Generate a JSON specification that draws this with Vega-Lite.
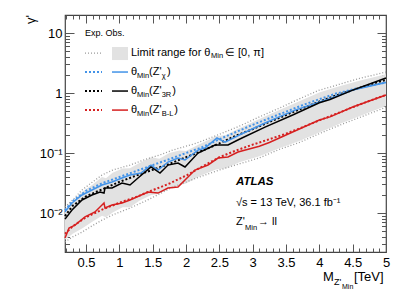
{
  "$schema": "https://vega.github.io/schema/vega-lite/v6.json",
  "width": 321,
  "height": 237,
  "autosize": {"type": "none"},
  "padding": {"left": 65, "top": 15, "right": 21, "bottom": 49},
  "background": "white",
  "config": {
    "font": "Liberation Sans",
    "view": {"stroke": "#444", "strokeWidth": 1.2},
    "axis": {"domain": false, "grid": false, "tickColor": "#555", "tickWidth": 1, "labelFont": "Liberation Sans", "labelFontSize": 13, "labelColor": "#000", "labelFlush": false, "labelOverlap": false}
  },
  "datasets": {
    "fill": [
      {"x": 0.185, "lo": 0.0036, "hi": 0.0118},
      {"x": 0.3, "lo": 0.0045, "hi": 0.0155},
      {"x": 0.44, "lo": 0.0055, "hi": 0.0225},
      {"x": 0.6, "lo": 0.0072, "hi": 0.03},
      {"x": 0.74, "lo": 0.009, "hi": 0.04},
      {"x": 0.8, "lo": 0.0085, "hi": 0.038},
      {"x": 0.9, "lo": 0.0102, "hi": 0.047},
      {"x": 1.05, "lo": 0.0125, "hi": 0.055},
      {"x": 1.16, "lo": 0.0125, "hi": 0.056},
      {"x": 1.3, "lo": 0.016, "hi": 0.068},
      {"x": 1.48, "lo": 0.02, "hi": 0.085},
      {"x": 1.6, "lo": 0.021, "hi": 0.08},
      {"x": 1.75, "lo": 0.026, "hi": 0.1},
      {"x": 1.9, "lo": 0.029, "hi": 0.11},
      {"x": 2.0, "lo": 0.031, "hi": 0.108},
      {"x": 2.2, "lo": 0.041, "hi": 0.14},
      {"x": 2.45, "lo": 0.053, "hi": 0.19},
      {"x": 2.6, "lo": 0.056, "hi": 0.2},
      {"x": 2.8, "lo": 0.07, "hi": 0.26},
      {"x": 3.1, "lo": 0.088, "hi": 0.37},
      {"x": 3.4, "lo": 0.12, "hi": 0.52},
      {"x": 3.7, "lo": 0.158, "hi": 0.73},
      {"x": 4.0, "lo": 0.22, "hi": 1.02},
      {"x": 4.3, "lo": 0.305, "hi": 1.3},
      {"x": 4.6, "lo": 0.41, "hi": 1.6},
      {"x": 5.0, "lo": 0.61, "hi": 2.05}
    ],
    "exprange": [
      {"x": 0.185, "up": 0.0126, "lo": 0.0033},
      {"x": 0.3, "up": 0.0165, "lo": 0.004},
      {"x": 0.44, "up": 0.0242, "lo": 0.0048},
      {"x": 0.6, "up": 0.033, "lo": 0.0062},
      {"x": 0.74, "up": 0.043, "lo": 0.0076},
      {"x": 0.9, "up": 0.052, "lo": 0.0093},
      {"x": 1.16, "up": 0.063, "lo": 0.0121},
      {"x": 1.4, "up": 0.079, "lo": 0.016},
      {"x": 1.61, "up": 0.093, "lo": 0.021},
      {"x": 1.8, "up": 0.112, "lo": 0.027},
      {"x": 2.15, "up": 0.145, "lo": 0.038},
      {"x": 2.5, "up": 0.205, "lo": 0.052},
      {"x": 2.8, "up": 0.28, "lo": 0.066},
      {"x": 3.1, "up": 0.4, "lo": 0.083},
      {"x": 3.4, "up": 0.56, "lo": 0.115},
      {"x": 3.7, "up": 0.8, "lo": 0.15},
      {"x": 4.0, "up": 1.12, "lo": 0.21},
      {"x": 4.16, "up": 1.25, "lo": 0.25},
      {"x": 4.3, "up": 1.4, "lo": 0.29},
      {"x": 4.6, "up": 1.75, "lo": 0.39},
      {"x": 5.0, "up": 2.24, "lo": 0.58}
    ],
    "curves": [
      {"s": "chi", "k": "exp", "x": 0.185, "y": 0.0112},
      {"s": "chi", "k": "exp", "x": 0.3, "y": 0.0158},
      {"s": "chi", "k": "exp", "x": 0.5, "y": 0.0234},
      {"s": "chi", "k": "exp", "x": 0.75, "y": 0.0316},
      {"s": "chi", "k": "exp", "x": 1.0, "y": 0.0398},
      {"s": "chi", "k": "exp", "x": 1.25, "y": 0.05},
      {"s": "chi", "k": "exp", "x": 1.5, "y": 0.063},
      {"s": "chi", "k": "exp", "x": 1.75, "y": 0.079},
      {"s": "chi", "k": "exp", "x": 2.0, "y": 0.1},
      {"s": "chi", "k": "exp", "x": 2.25, "y": 0.126},
      {"s": "chi", "k": "exp", "x": 2.5, "y": 0.17},
      {"s": "chi", "k": "exp", "x": 2.75, "y": 0.224},
      {"s": "chi", "k": "exp", "x": 3.0, "y": 0.295},
      {"s": "chi", "k": "exp", "x": 3.25, "y": 0.38},
      {"s": "chi", "k": "exp", "x": 3.5, "y": 0.49},
      {"s": "chi", "k": "exp", "x": 3.75, "y": 0.63},
      {"s": "chi", "k": "exp", "x": 4.0, "y": 0.79},
      {"s": "chi", "k": "exp", "x": 4.25, "y": 0.98},
      {"s": "chi", "k": "exp", "x": 4.5, "y": 1.15},
      {"s": "chi", "k": "exp", "x": 4.75, "y": 1.33},
      {"s": "chi", "k": "exp", "x": 5.0, "y": 1.5},
      {"s": "3R", "k": "exp", "x": 0.185, "y": 0.0089},
      {"s": "3R", "k": "exp", "x": 0.3, "y": 0.0132},
      {"s": "3R", "k": "exp", "x": 0.5, "y": 0.019},
      {"s": "3R", "k": "exp", "x": 0.75, "y": 0.025},
      {"s": "3R", "k": "exp", "x": 1.0, "y": 0.033},
      {"s": "3R", "k": "exp", "x": 1.25, "y": 0.042},
      {"s": "3R", "k": "exp", "x": 1.5, "y": 0.0525},
      {"s": "3R", "k": "exp", "x": 1.75, "y": 0.066},
      {"s": "3R", "k": "exp", "x": 2.0, "y": 0.085},
      {"s": "3R", "k": "exp", "x": 2.25, "y": 0.11},
      {"s": "3R", "k": "exp", "x": 2.5, "y": 0.145},
      {"s": "3R", "k": "exp", "x": 2.75, "y": 0.195},
      {"s": "3R", "k": "exp", "x": 3.0, "y": 0.25},
      {"s": "3R", "k": "exp", "x": 3.25, "y": 0.33},
      {"s": "3R", "k": "exp", "x": 3.5, "y": 0.43},
      {"s": "3R", "k": "exp", "x": 3.75, "y": 0.56},
      {"s": "3R", "k": "exp", "x": 4.0, "y": 0.72},
      {"s": "3R", "k": "exp", "x": 4.25, "y": 0.91},
      {"s": "3R", "k": "exp", "x": 4.5, "y": 1.12},
      {"s": "3R", "k": "exp", "x": 4.75, "y": 1.38},
      {"s": "3R", "k": "exp", "x": 5.0, "y": 1.66},
      {"s": "BL", "k": "exp", "x": 0.185, "y": 0.0045},
      {"s": "BL", "k": "exp", "x": 0.3, "y": 0.006},
      {"s": "BL", "k": "exp", "x": 0.5, "y": 0.0085},
      {"s": "BL", "k": "exp", "x": 0.75, "y": 0.0115},
      {"s": "BL", "k": "exp", "x": 1.0, "y": 0.0148},
      {"s": "BL", "k": "exp", "x": 1.25, "y": 0.0185},
      {"s": "BL", "k": "exp", "x": 1.5, "y": 0.024},
      {"s": "BL", "k": "exp", "x": 1.75, "y": 0.031},
      {"s": "BL", "k": "exp", "x": 2.0, "y": 0.042},
      {"s": "BL", "k": "exp", "x": 2.25, "y": 0.06},
      {"s": "BL", "k": "exp", "x": 2.5, "y": 0.085},
      {"s": "BL", "k": "exp", "x": 2.75, "y": 0.11},
      {"s": "BL", "k": "exp", "x": 3.0, "y": 0.138},
      {"s": "BL", "k": "exp", "x": 3.25, "y": 0.17},
      {"s": "BL", "k": "exp", "x": 3.5, "y": 0.21},
      {"s": "BL", "k": "exp", "x": 3.75, "y": 0.27},
      {"s": "BL", "k": "exp", "x": 4.0, "y": 0.35},
      {"s": "BL", "k": "exp", "x": 4.25, "y": 0.45},
      {"s": "BL", "k": "exp", "x": 4.5, "y": 0.58},
      {"s": "BL", "k": "exp", "x": 4.75, "y": 0.74},
      {"s": "BL", "k": "exp", "x": 5.0, "y": 0.93},
      {"s": "chi", "k": "obs", "x": 0.185, "y": 0.0105},
      {"s": "chi", "k": "obs", "x": 0.29, "y": 0.0147},
      {"s": "chi", "k": "obs", "x": 0.44, "y": 0.02},
      {"s": "chi", "k": "obs", "x": 0.59, "y": 0.0242},
      {"s": "chi", "k": "obs", "x": 0.74, "y": 0.0293},
      {"s": "chi", "k": "obs", "x": 0.89, "y": 0.0329},
      {"s": "chi", "k": "obs", "x": 1.04, "y": 0.0383},
      {"s": "chi", "k": "obs", "x": 1.16, "y": 0.043},
      {"s": "chi", "k": "obs", "x": 1.325, "y": 0.0464},
      {"s": "chi", "k": "obs", "x": 1.475, "y": 0.063},
      {"s": "chi", "k": "obs", "x": 1.58, "y": 0.052},
      {"s": "chi", "k": "obs", "x": 1.73, "y": 0.0708},
      {"s": "chi", "k": "obs", "x": 1.88, "y": 0.0826},
      {"s": "chi", "k": "obs", "x": 1.985, "y": 0.0764},
      {"s": "chi", "k": "obs", "x": 2.18, "y": 0.112},
      {"s": "chi", "k": "obs", "x": 2.285, "y": 0.121},
      {"s": "chi", "k": "obs", "x": 2.465, "y": 0.178},
      {"s": "chi", "k": "obs", "x": 2.585, "y": 0.152},
      {"s": "chi", "k": "obs", "x": 2.8, "y": 0.2},
      {"s": "chi", "k": "obs", "x": 3.185, "y": 0.316},
      {"s": "chi", "k": "obs", "x": 3.635, "y": 0.52},
      {"s": "chi", "k": "obs", "x": 4.16, "y": 0.81},
      {"s": "chi", "k": "obs", "x": 4.5, "y": 1.12},
      {"s": "chi", "k": "obs", "x": 5.0, "y": 1.5},
      {"s": "3R", "k": "obs", "x": 0.185, "y": 0.0079},
      {"s": "3R", "k": "obs", "x": 0.29, "y": 0.0112},
      {"s": "3R", "k": "obs", "x": 0.44, "y": 0.0165},
      {"s": "3R", "k": "obs", "x": 0.59, "y": 0.02},
      {"s": "3R", "k": "obs", "x": 0.71, "y": 0.0224},
      {"s": "3R", "k": "obs", "x": 0.77, "y": 0.0215},
      {"s": "3R", "k": "obs", "x": 0.785, "y": 0.0261},
      {"s": "3R", "k": "obs", "x": 0.89, "y": 0.0261},
      {"s": "3R", "k": "obs", "x": 1.04, "y": 0.0316},
      {"s": "3R", "k": "obs", "x": 1.16, "y": 0.0293},
      {"s": "3R", "k": "obs", "x": 1.28, "y": 0.0383},
      {"s": "3R", "k": "obs", "x": 1.475, "y": 0.0585},
      {"s": "3R", "k": "obs", "x": 1.61, "y": 0.0464},
      {"s": "3R", "k": "obs", "x": 1.73, "y": 0.063},
      {"s": "3R", "k": "obs", "x": 1.88, "y": 0.068},
      {"s": "3R", "k": "obs", "x": 1.985, "y": 0.0585},
      {"s": "3R", "k": "obs", "x": 2.18, "y": 0.1},
      {"s": "3R", "k": "obs", "x": 2.435, "y": 0.136},
      {"s": "3R", "k": "obs", "x": 2.63, "y": 0.136},
      {"s": "3R", "k": "obs", "x": 2.8, "y": 0.17},
      {"s": "3R", "k": "obs", "x": 3.185, "y": 0.271},
      {"s": "3R", "k": "obs", "x": 3.6, "y": 0.43},
      {"s": "3R", "k": "obs", "x": 4.0, "y": 0.69},
      {"s": "3R", "k": "obs", "x": 4.16, "y": 0.78},
      {"s": "3R", "k": "obs", "x": 4.5, "y": 1.12},
      {"s": "3R", "k": "obs", "x": 5.0, "y": 1.78},
      {"s": "BL", "k": "obs", "x": 0.185, "y": 0.00383},
      {"s": "BL", "k": "obs", "x": 0.245, "y": 0.0056},
      {"s": "BL", "k": "obs", "x": 0.335, "y": 0.0063},
      {"s": "BL", "k": "obs", "x": 0.485, "y": 0.0086},
      {"s": "BL", "k": "obs", "x": 0.635, "y": 0.0104},
      {"s": "BL", "k": "obs", "x": 0.77, "y": 0.0147},
      {"s": "BL", "k": "obs", "x": 0.785, "y": 0.0121},
      {"s": "BL", "k": "obs", "x": 0.89, "y": 0.0136},
      {"s": "BL", "k": "obs", "x": 1.04, "y": 0.0147},
      {"s": "BL", "k": "obs", "x": 1.16, "y": 0.0165},
      {"s": "BL", "k": "obs", "x": 1.43, "y": 0.0224},
      {"s": "BL", "k": "obs", "x": 1.58, "y": 0.0215},
      {"s": "BL", "k": "obs", "x": 1.73, "y": 0.0261},
      {"s": "BL", "k": "obs", "x": 1.88, "y": 0.0271},
      {"s": "BL", "k": "obs", "x": 1.985, "y": 0.0355},
      {"s": "BL", "k": "obs", "x": 2.135, "y": 0.052},
      {"s": "BL", "k": "obs", "x": 2.33, "y": 0.063},
      {"s": "BL", "k": "obs", "x": 2.48, "y": 0.0826},
      {"s": "BL", "k": "obs", "x": 2.63, "y": 0.0858},
      {"s": "BL", "k": "obs", "x": 2.78, "y": 0.104},
      {"s": "BL", "k": "obs", "x": 3.1, "y": 0.13},
      {"s": "BL", "k": "obs", "x": 3.25, "y": 0.15},
      {"s": "BL", "k": "obs", "x": 3.4, "y": 0.178},
      {"s": "BL", "k": "obs", "x": 4.0, "y": 0.355},
      {"s": "BL", "k": "obs", "x": 4.16, "y": 0.4},
      {"s": "BL", "k": "obs", "x": 4.5, "y": 0.585},
      {"s": "BL", "k": "obs", "x": 5.0, "y": 0.926}
    ],
    "legrules": [
      {"s": "range", "k": "range", "x": 0.485, "x2": 0.74, "y": 4.64},
      {"s": "chi", "k": "exp", "x": 0.485, "x2": 0.74, "y": 2.24},
      {"s": "chi", "k": "obs", "x": 0.89, "x2": 1.13, "y": 2.24},
      {"s": "3R", "k": "exp", "x": 0.485, "x2": 0.74, "y": 1.08},
      {"s": "3R", "k": "obs", "x": 0.89, "x2": 1.13, "y": 1.08},
      {"s": "BL", "k": "exp", "x": 0.485, "x2": 0.74, "y": 0.52},
      {"s": "BL", "k": "obs", "x": 0.89, "x2": 1.13, "y": 0.52}
    ],
    "legbox": [
      {"x": 0.89, "x2": 1.13, "y": 5.85, "y2": 3.55}
    ],
    "labels": [
      {"role": "hdr", "x": 0.485, "y": 10, "t": "Exp. Obs."},
      {"role": "leg", "x": 1.175, "y": 4.64, "t": "Limit range for θ"},
      {"role": "leg", "x": 2.585, "y": 4.64, "t": "∈ [0, π]"},
      {"role": "leg", "x": 1.175, "y": 2.24, "t": "θ"},
      {"role": "leg", "x": 1.445, "y": 2.24, "t": "(Z'"},
      {"role": "leg", "x": 1.715, "y": 2.24, "t": ")"},
      {"role": "leg", "x": 1.175, "y": 1.08, "t": "θ"},
      {"role": "leg", "x": 1.445, "y": 1.08, "t": "(Z'"},
      {"role": "leg", "x": 1.795, "y": 1.08, "t": ")"},
      {"role": "leg", "x": 1.175, "y": 0.52, "t": "θ"},
      {"role": "leg", "x": 1.445, "y": 0.52, "t": "(Z'"},
      {"role": "leg", "x": 1.825, "y": 0.52, "t": ")"},
      {"role": "legsub", "x": 2.375, "y": 4.14, "t": "Min"},
      {"role": "legsub", "x": 1.265, "y": 1.96, "t": "Min"},
      {"role": "legsub", "x": 1.635, "y": 1.96, "t": "χ"},
      {"role": "legsub", "x": 1.265, "y": 0.944, "t": "Min"},
      {"role": "legsub", "x": 1.635, "y": 0.944, "t": "3R"},
      {"role": "legsub", "x": 1.265, "y": 0.455, "t": "Min"},
      {"role": "legsub", "x": 1.635, "y": 0.455, "t": "B-L"},
      {"role": "atlas", "x": 2.75, "y": 0.0329, "t": "ATLAS"},
      {"role": "note", "x": 2.75, "y": 0.0147, "t": "√s = 13 TeV, 36.1 fb⁻¹"},
      {"role": "note", "x": 2.75, "y": 0.0071, "t": "Z'"},
      {"role": "note", "x": 3.08, "y": 0.0071, "t": "→ ll"},
      {"role": "legsub", "x": 2.885, "y": 0.0056, "t": "Min"},
      {"role": "xt", "x": 4.055, "y": 0.000857, "t": "M"},
      {"role": "xt", "x": 4.52, "y": 0.000857, "t": "[TeV]"},
      {"role": "xsub", "x": 4.22, "y": 0.000708, "t": "Z'"},
      {"role": "xsub2", "x": 4.34, "y": 0.000583, "t": "Min"}
    ]
  },
  "resolve": {"axis": {"x": "independent", "y": "independent"}},
  "layer": [
    {
      "data": {"name": "fill"},
      "mark": {"type": "area", "color": "#e2e2e2"},
      "encoding": {
        "x": {"field": "x", "type": "quantitative", "scale": {"type": "linear", "domain": [0.185, 5], "nice": false, "zero": false},
          "axis": {"orient": "bottom", "values": [0.5, 1, 1.5, 2, 2.5, 3, 3.5, 4, 4.5, 5], "ticks": false, "labelPadding": 4, "format": "~g", "title": null}},
        "y": {"field": "hi", "type": "quantitative", "scale": {"type": "log", "domain": [0.00224, 20], "nice": false},
          "axis": {"orient": "left", "values": [0.01, 0.1, 1, 10], "ticks": false, "labelPadding": 3,
            "labelExpr": "datum.value >= 5 ? '10' : datum.value >= 0.5 ? '1' : datum.value >= 0.05 ? '10⁻¹' : '10⁻²'",
            "title": "γ'", "titleFontSize": 13, "titleFontWeight": "normal", "titleFont": "Liberation Sans", "titleAngle": 270, "titleX": -35, "titleY": 4, "titleAlign": "center", "titleBaseline": "middle"}},
        "y2": {"field": "lo"}
      }
    },
    {
      "data": {"name": "exprange"},
      "mark": {"type": "line", "color": "#9a9a9a", "strokeDash": [1, 2], "strokeWidth": 1.3},
      "encoding": {
        "x": {"field": "x", "type": "quantitative", "scale": {"type": "linear", "domain": [0.185, 5], "nice": false, "zero": false},
          "axis": {"orient": "bottom", "values": [0.5, 1, 1.5, 2, 2.5, 3, 3.5, 4, 4.5, 5], "labels": false, "tickSize": -8, "title": null}},
        "y": {"field": "up", "type": "quantitative", "scale": {"type": "log", "domain": [0.00224, 20], "nice": false},
          "axis": {"orient": "left", "values": [0.01, 0.1, 1, 10], "labels": false, "tickSize": -9, "title": null}}
      }
    },
    {
      "data": {"name": "exprange"},
      "mark": {"type": "line", "color": "#9a9a9a", "strokeDash": [1, 2], "strokeWidth": 1.3},
      "encoding": {
        "x": {"field": "x", "type": "quantitative", "scale": {"type": "linear", "domain": [0.185, 5], "nice": false, "zero": false},
          "axis": {"orient": "bottom", "values": [0.2, 0.3, 0.4, 0.6, 0.7, 0.8, 0.9, 1.1, 1.2, 1.3, 1.4, 1.6, 1.7, 1.8, 1.9, 2.1, 2.2, 2.3, 2.4, 2.6, 2.7, 2.8, 2.9, 3.1, 3.2, 3.3, 3.4, 3.6, 3.7, 3.8, 3.9, 4.1, 4.2, 4.3, 4.4, 4.6, 4.7, 4.8, 4.9], "labels": false, "tickSize": -4, "title": null}},
        "y": {"field": "lo", "type": "quantitative", "scale": {"type": "log", "domain": [0.00224, 20], "nice": false},
          "axis": {"orient": "left", "values": [0.003, 0.004, 0.005, 0.006, 0.007, 0.008, 0.009, 0.02, 0.03, 0.04, 0.05, 0.06, 0.07, 0.08, 0.09, 0.2, 0.3, 0.4, 0.5, 0.6, 0.7, 0.8, 0.9, 2, 3, 4, 5, 6, 7, 8, 9], "labels": false, "tickSize": -4.5, "title": null}}
      }
    },
    {
      "data": {"name": "curves"},
      "transform": [{"filter": "datum.k == 'exp'"}],
      "mark": {"type": "line", "strokeDash": [2, 2], "strokeWidth": 2},
      "encoding": {
        "x": {"field": "x", "type": "quantitative", "scale": {"type": "linear", "domain": [0.185, 5], "nice": false, "zero": false},
          "axis": {"orient": "top", "values": [0.5, 1, 1.5, 2, 2.5, 3, 3.5, 4, 4.5, 5], "labels": false, "tickSize": -8, "title": null}},
        "y": {"field": "y", "type": "quantitative", "scale": {"type": "log", "domain": [0.00224, 20], "nice": false},
          "axis": {"orient": "right", "values": [0.01, 0.1, 1, 10], "labels": false, "tickSize": -9, "title": null}},
        "color": {"field": "s", "type": "nominal", "scale": {"domain": ["chi", "3R", "BL"], "range": ["#4393e8", "#000000", "#d62020"]}, "legend": null}
      }
    },
    {
      "data": {"name": "curves"},
      "transform": [{"filter": "datum.k == 'obs'"}],
      "mark": {"type": "line", "strokeWidth": 1.5},
      "encoding": {
        "x": {"field": "x", "type": "quantitative", "scale": {"type": "linear", "domain": [0.185, 5], "nice": false, "zero": false},
          "axis": {"orient": "top", "values": [0.2, 0.3, 0.4, 0.6, 0.7, 0.8, 0.9, 1.1, 1.2, 1.3, 1.4, 1.6, 1.7, 1.8, 1.9, 2.1, 2.2, 2.3, 2.4, 2.6, 2.7, 2.8, 2.9, 3.1, 3.2, 3.3, 3.4, 3.6, 3.7, 3.8, 3.9, 4.1, 4.2, 4.3, 4.4, 4.6, 4.7, 4.8, 4.9], "labels": false, "tickSize": -4, "title": null}},
        "y": {"field": "y", "type": "quantitative", "scale": {"type": "log", "domain": [0.00224, 20], "nice": false},
          "axis": {"orient": "right", "values": [0.003, 0.004, 0.005, 0.006, 0.007, 0.008, 0.009, 0.02, 0.03, 0.04, 0.05, 0.06, 0.07, 0.08, 0.09, 0.2, 0.3, 0.4, 0.5, 0.6, 0.7, 0.8, 0.9, 2, 3, 4, 5, 6, 7, 8, 9], "labels": false, "tickSize": -4.5, "title": null}},
        "color": {"field": "s", "type": "nominal", "scale": {"domain": ["chi", "3R", "BL"], "range": ["#4393e8", "#000000", "#d62020"]}, "legend": null}
      }
    },
    {
      "data": {"name": "legbox"},
      "mark": {"type": "rect", "color": "#e2e2e2"},
      "encoding": {
        "x": {"field": "x", "type": "quantitative", "scale": {"type": "linear", "domain": [0.185, 5], "nice": false, "zero": false}, "axis": null},
        "x2": {"field": "x2"},
        "y": {"field": "y", "type": "quantitative", "scale": {"type": "log", "domain": [0.00224, 20], "nice": false}, "axis": null},
        "y2": {"field": "y2"}
      }
    },
    {
      "data": {"name": "legrules"},
      "transform": [{"filter": "datum.k == 'range'"}],
      "mark": {"type": "rule", "color": "#9a9a9a", "strokeDash": [1, 2], "strokeWidth": 1.3},
      "encoding": {
        "x": {"field": "x", "type": "quantitative", "scale": {"type": "linear", "domain": [0.185, 5], "nice": false, "zero": false}, "axis": null},
        "x2": {"field": "x2"},
        "y": {"field": "y", "type": "quantitative", "scale": {"type": "log", "domain": [0.00224, 20], "nice": false}, "axis": null}
      }
    },
    {
      "data": {"name": "legrules"},
      "transform": [{"filter": "datum.k == 'exp'"}],
      "mark": {"type": "rule", "strokeDash": [2, 2], "strokeWidth": 2},
      "encoding": {
        "x": {"field": "x", "type": "quantitative", "scale": {"type": "linear", "domain": [0.185, 5], "nice": false, "zero": false}, "axis": null},
        "x2": {"field": "x2"},
        "y": {"field": "y", "type": "quantitative", "scale": {"type": "log", "domain": [0.00224, 20], "nice": false}, "axis": null},
        "color": {"field": "s", "type": "nominal", "scale": {"domain": ["chi", "3R", "BL"], "range": ["#4393e8", "#000000", "#d62020"]}, "legend": null}
      }
    },
    {
      "data": {"name": "legrules"},
      "transform": [{"filter": "datum.k == 'obs'"}],
      "mark": {"type": "rule", "strokeWidth": 1.5},
      "encoding": {
        "x": {"field": "x", "type": "quantitative", "scale": {"type": "linear", "domain": [0.185, 5], "nice": false, "zero": false}, "axis": null},
        "x2": {"field": "x2"},
        "y": {"field": "y", "type": "quantitative", "scale": {"type": "log", "domain": [0.00224, 20], "nice": false}, "axis": null},
        "color": {"field": "s", "type": "nominal", "scale": {"domain": ["chi", "3R", "BL"], "range": ["#4393e8", "#000000", "#d62020"]}, "legend": null}
      }
    },
    {
      "data": {"name": "labels"},
      "transform": [{"filter": "datum.role == 'hdr'"}],
      "mark": {"type": "text", "align": "left", "baseline": "middle", "fontSize": 9, "font": "Liberation Sans", "color": "#000"},
      "encoding": {
        "x": {"field": "x", "type": "quantitative", "scale": {"type": "linear", "domain": [0.185, 5], "nice": false, "zero": false}, "axis": null},
        "y": {"field": "y", "type": "quantitative", "scale": {"type": "log", "domain": [0.00224, 20], "nice": false}, "axis": null},
        "text": {"field": "t"}
      }
    },
    {
      "data": {"name": "labels"},
      "transform": [{"filter": "datum.role == 'leg' || datum.role == 'note'"}],
      "mark": {"type": "text", "align": "left", "baseline": "middle", "fontSize": 11, "font": "Liberation Sans", "color": "#000"},
      "encoding": {
        "x": {"field": "x", "type": "quantitative", "scale": {"type": "linear", "domain": [0.185, 5], "nice": false, "zero": false}, "axis": null},
        "y": {"field": "y", "type": "quantitative", "scale": {"type": "log", "domain": [0.00224, 20], "nice": false}, "axis": null},
        "text": {"field": "t"}
      }
    },
    {
      "data": {"name": "labels"},
      "transform": [{"filter": "datum.role == 'legsub'"}],
      "mark": {"type": "text", "align": "left", "baseline": "middle", "fontSize": 7.5, "font": "Liberation Sans", "color": "#000"},
      "encoding": {
        "x": {"field": "x", "type": "quantitative", "scale": {"type": "linear", "domain": [0.185, 5], "nice": false, "zero": false}, "axis": null},
        "y": {"field": "y", "type": "quantitative", "scale": {"type": "log", "domain": [0.00224, 20], "nice": false}, "axis": null},
        "text": {"field": "t"}
      }
    },
    {
      "data": {"name": "labels"},
      "transform": [{"filter": "datum.role == 'atlas'"}],
      "mark": {"type": "text", "align": "left", "baseline": "middle", "fontSize": 11.5, "fontWeight": "bold", "fontStyle": "italic", "font": "Liberation Sans", "color": "#000"},
      "encoding": {
        "x": {"field": "x", "type": "quantitative", "scale": {"type": "linear", "domain": [0.185, 5], "nice": false, "zero": false}, "axis": null},
        "y": {"field": "y", "type": "quantitative", "scale": {"type": "log", "domain": [0.00224, 20], "nice": false}, "axis": null},
        "text": {"field": "t"}
      }
    },
    {
      "data": {"name": "labels"},
      "transform": [{"filter": "datum.role == 'xt'"}],
      "mark": {"type": "text", "align": "left", "baseline": "middle", "fontSize": 13, "font": "Liberation Sans", "color": "#000"},
      "encoding": {
        "x": {"field": "x", "type": "quantitative", "scale": {"type": "linear", "domain": [0.185, 5], "nice": false, "zero": false}, "axis": null},
        "y": {"field": "y", "type": "quantitative", "scale": {"type": "log", "domain": [0.00224, 20], "nice": false}, "axis": null},
        "text": {"field": "t"}
      }
    },
    {
      "data": {"name": "labels"},
      "transform": [{"filter": "datum.role == 'xsub'"}],
      "mark": {"type": "text", "align": "left", "baseline": "middle", "fontSize": 9, "font": "Liberation Sans", "color": "#000"},
      "encoding": {
        "x": {"field": "x", "type": "quantitative", "scale": {"type": "linear", "domain": [0.185, 5], "nice": false, "zero": false}, "axis": null},
        "y": {"field": "y", "type": "quantitative", "scale": {"type": "log", "domain": [0.00224, 20], "nice": false}, "axis": null},
        "text": {"field": "t"}
      }
    },
    {
      "data": {"name": "labels"},
      "transform": [{"filter": "datum.role == 'xsub2'"}],
      "mark": {"type": "text", "align": "left", "baseline": "middle", "fontSize": 7, "font": "Liberation Sans", "color": "#000"},
      "encoding": {
        "x": {"field": "x", "type": "quantitative", "scale": {"type": "linear", "domain": [0.185, 5], "nice": false, "zero": false}, "axis": null},
        "y": {"field": "y", "type": "quantitative", "scale": {"type": "log", "domain": [0.00224, 20], "nice": false}, "axis": null},
        "text": {"field": "t"}
      }
    }
  ]
}
